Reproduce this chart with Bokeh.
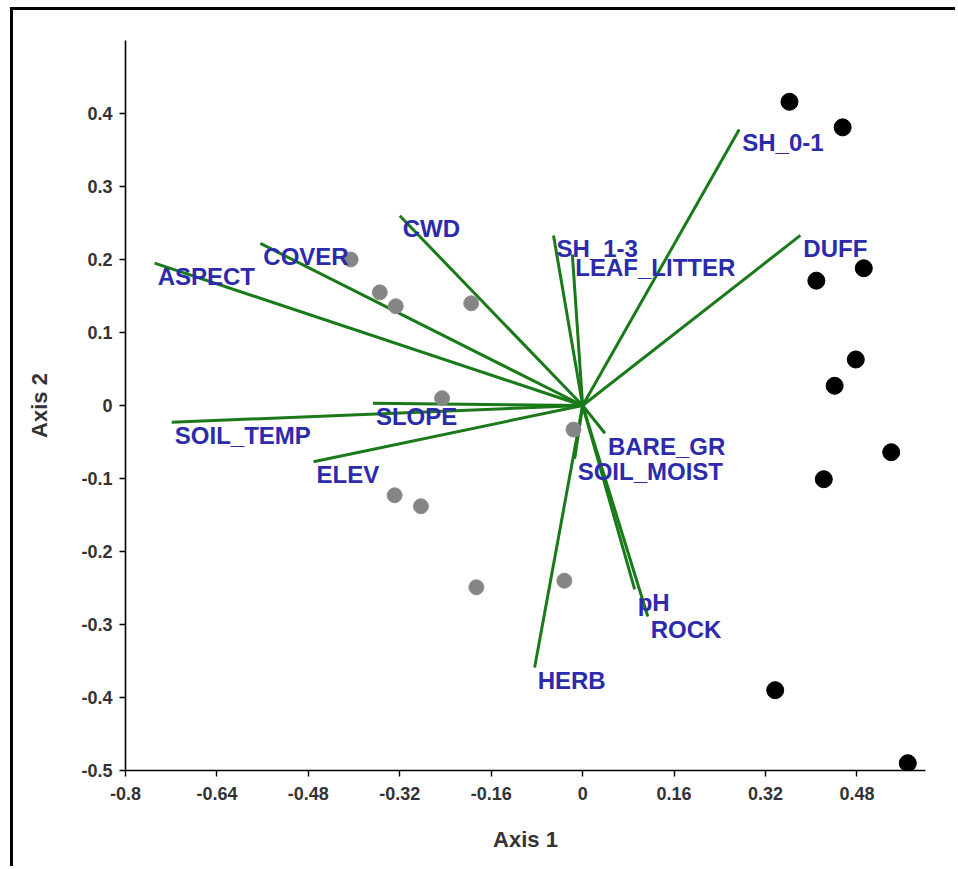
from bokeh.plotting import figure
from bokeh.models import ColumnDataSource, Range1d, FixedTicker
from bokeh.core.properties import value
from bokeh.embed import file_html
from bokeh.resources import INLINE

# Environmental variable vectors (biplot arrows drawn from the origin)
variables = ["ASPECT", "COVER", "CWD", "SOIL_TEMP", "SLOPE", "ELEV",
             "SH_1-3", "LEAF_LITTER", "SH_0-1", "DUFF", "BARE_GR",
             "SOIL_MOIST", "pH", "ROCK", "HERB"]
vec_x = [-0.749, -0.564, -0.320, -0.719, -0.367, -0.471,
         -0.051, -0.018, 0.274, 0.381, 0.039,
         -0.014, 0.091, 0.114, -0.084]
vec_y = [0.195, 0.222, 0.260, -0.023, 0.003, -0.077,
         0.233, 0.207, 0.378, 0.233, -0.038,
         -0.073, -0.252, -0.289, -0.359]

# Plot scores, group 1 (grey)
grp1_x = [-0.406, -0.355, -0.327, -0.195, -0.246, -0.016, -0.329, -0.283, -0.186, -0.032]
grp1_y = [0.200, 0.155, 0.136, 0.140, 0.010, -0.033, -0.123, -0.138, -0.249, -0.240]

# Plot scores, group 2 (black)
grp2_x = [0.362, 0.455, 0.409, 0.492, 0.478, 0.441, 0.540, 0.422, 0.337, 0.569]
grp2_y = [0.416, 0.381, 0.171, 0.188, 0.063, 0.027, -0.064, -0.101, -0.390, -0.490]

x_ticks = [-0.8, -0.64, -0.48, -0.32, -0.16, 0, 0.16, 0.32, 0.48]
x_tick_labels = ["-0.8", "-0.64", "-0.48", "-0.32", "-0.16", "0", "0.16", "0.32", "0.48"]
y_ticks = [-0.5, -0.4, -0.3, -0.2, -0.1, 0, 0.1, 0.2, 0.3, 0.4]
y_tick_labels = ["-0.5", "-0.4", "-0.3", "-0.2", "-0.1", "0", "0.1", "0.2", "0.3", "0.4"]

FONT = "Liberation Sans"

p = figure(width=945, height=859,
           x_range=Range1d(-0.8, 0.6), y_range=Range1d(-0.5, 0.5),
           output_backend="svg", toolbar_location=None,
           min_border_left=112, min_border_right=33,
           min_border_top=30, min_border_bottom=99)
p.styles = {"margin-left": "10px", "margin-top": "7px",
            "border-left": "3px solid black", "border-top": "3px solid black"}

p.background_fill_color = "white"
p.border_fill_color = "white"
p.outline_line_color = None
p.grid.visible = False

p.xaxis.ticker = FixedTicker(ticks=x_ticks)
p.yaxis.ticker = FixedTicker(ticks=y_ticks)
p.xaxis.major_label_overrides = dict(zip(x_ticks, x_tick_labels))
p.yaxis.major_label_overrides = dict(zip(y_ticks, y_tick_labels))

for ax in (p.xaxis[0], p.yaxis[0]):
    ax.axis_line_color = "black"
    ax.axis_line_width = 1.6
    ax.major_tick_line_color = "black"
    ax.major_tick_line_width = 1.4
    ax.major_tick_out = 6
    ax.major_tick_in = 0
    ax.minor_tick_line_color = None
    ax.major_label_text_font = FONT
    ax.major_label_text_font_style = "bold"
    ax.major_label_text_font_size = "18px"
    ax.major_label_text_color = "#333333"
    ax.axis_label_text_font = FONT
    ax.axis_label_text_font_style = "bold"
    ax.axis_label_text_font_size = "22px"
    ax.axis_label_text_color = "#333333"

p.xaxis.axis_label = "Axis 1"
p.yaxis.axis_label = "Axis 2"
p.xaxis.major_label_standoff = 10
p.yaxis.major_label_standoff = 7
p.xaxis.axis_label_standoff = 24
p.yaxis.axis_label_standoff = 26

# Vectors
vec_src = ColumnDataSource(dict(
    x0=[0.0] * len(variables), y0=[0.0] * len(variables),
    x1=vec_x, y1=vec_y, name=variables))
p.segment(x0="x0", y0="y0", x1="x1", y1="y1", source=vec_src,
          line_color="#1a7a1a", line_width=3)

# Sample points
p.scatter(grp1_x, grp1_y, size=15, fill_color="#858585", line_color="#8f8f8f", line_width=1)
p.scatter(grp2_x, grp2_y, size=17, fill_color="black", line_color="black")

# Vector labels
p.text(x="x1", y="y1", text="name", source=vec_src,
       text_font=value(FONT), text_font_style="bold", text_font_size="24px",
       text_color="#2b2bab", text_align="left", text_baseline="middle",
       x_offset=3, y_offset=13)

open("out.html", "w").write(file_html(p, INLINE))
